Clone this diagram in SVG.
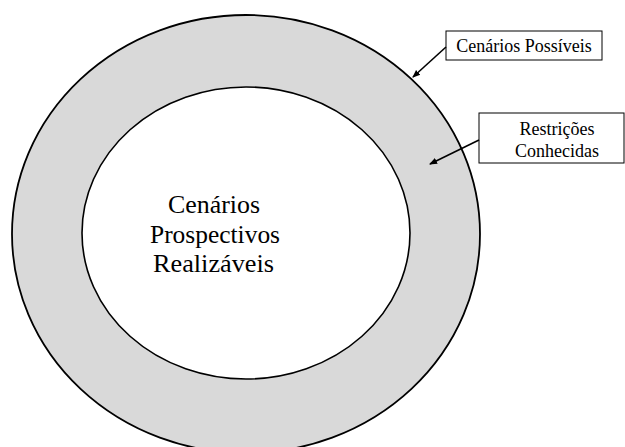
<svg xmlns="http://www.w3.org/2000/svg" width="625" height="447" viewBox="0 0 625 447">
  <style>
    .ring { fill: #d9d9d9; stroke: #000; stroke-width: 1.8; }
    .core { fill: #ffffff; stroke: #000; stroke-width: 1.6; }
    .box { fill: #ffffff; stroke: #000; stroke-width: 1; }
    .main { font-family: 'Liberation Serif', Tinos, 'DejaVu Serif', serif; font-size: 24.5px; fill: #000; text-anchor: middle; }
    .lbl { font-family: 'Liberation Serif', Tinos, 'DejaVu Serif', serif; font-size: 18px; fill: #000; text-anchor: middle; }
    .conn { stroke: #000; stroke-width: 1.6; fill: none; }
  </style>
  <defs>
    <marker id="ah" markerWidth="8" markerHeight="8" refX="7" refY="4" orient="auto" markerUnits="userSpaceOnUse">
      <path d="M0,0.8 L8,4 L0,7.2 Z" fill="#000"/>
    </marker>
  </defs>
  <rect x="0" y="0" width="625" height="447" fill="#ffffff"/>
  <g id="outer">
    <ellipse class="ring" cx="246" cy="234" rx="234" ry="219"/>
  </g>
  <g id="inner">
    <ellipse class="core" cx="246" cy="233" rx="164" ry="146"/>
    <text class="main" x="214" y="213" textLength="92" lengthAdjust="spacingAndGlyphs">Cenários</text>
    <text class="main" x="215" y="242.5" textLength="130" lengthAdjust="spacingAndGlyphs">Prospectivos</text>
    <text class="main" x="213.5" y="272" textLength="121" lengthAdjust="spacingAndGlyphs">Realizáveis</text>
  </g>
  <g id="label-possiveis">
    <rect class="box" x="446" y="31" width="156" height="29"/>
    <text class="lbl" x="524" y="52">Cenários Possíveis</text>
  </g>
  <g id="label-restricoes">
    <rect class="box" x="479" y="113" width="145" height="50"/>
    <text class="lbl" x="557" y="135">Restrições</text>
    <text class="lbl" x="557" y="157">Conhecidas</text>
  </g>
  <g id="connectors">
    <line class="conn" x1="446" y1="47" x2="413" y2="77" marker-end="url(#ah)"/>
    <line class="conn" x1="479" y1="140" x2="430" y2="164" marker-end="url(#ah)"/>
  </g>
</svg>
